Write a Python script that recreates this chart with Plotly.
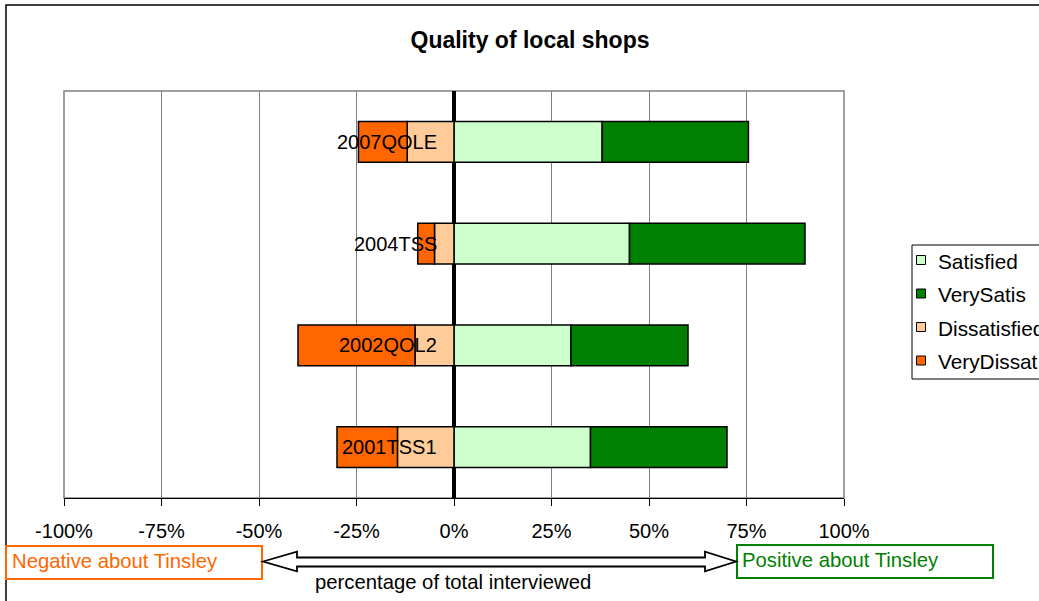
import plotly.graph_objects as go

# Survey results (percent of total interviewed)
categories = ["2007QOLE", "2004TSS", "2002QOL2", "2001TSS1"]
satisfied = [38, 45, 30, 35]
very_satis = [37.5, 45, 30, 35]
dissatisfied = [12, 5, 10, 14.5]
very_dissat = [12.5, 4.3, 30, 15.5]

series_names = ["Satisfied", "VerySatis", "Dissatisfied", "VeryDissat"]
series_colors = ["#CCFFCC", "#008000", "#FFCC99", "#FF6600"]

tick_values = [-100, -75, -50, -25, 0, 25, 50, 75, 100]
tick_labels = ["-100%", "-75%", "-50%", "-25%", "0%", "25%", "50%", "75%", "100%"]

FONT = "Liberation Sans, Arial, sans-serif"
W, H = 1039, 601
ML, MR, MT, MB = 64, 195, 91, 103
PW, PH = W - ML - MR, H - MT - MB


def px(xp):
    return (xp - ML) / PW


def py(yp):
    return (H - MB - yp) / PH


fig = go.Figure()

# positives stack to the right, negatives (drawn as negative values) to the left
series_values = [
    satisfied,
    very_satis,
    [-v for v in dissatisfied],
    [-v for v in very_dissat],
]
for name, color, vals in zip(series_names, series_colors, series_values):
    fig.add_trace(go.Bar(
        y=categories, x=vals, name=name, orientation="h", width=0.4,
        marker=dict(color=color, line=dict(color="#000000", width=1.5)),
        showlegend=False,
    ))

shapes = []
annotations = []

# outer chart border
shapes.append(dict(type="rect", xref="paper", yref="paper",
                   x0=px(6), x1=px(1060), y0=py(5), y1=py(620),
                   line=dict(color="#000000", width=1.5), layer="below"))
# plot area frame
shapes.append(dict(type="rect", xref="paper", yref="paper",
                   x0=0, x1=1, y0=0, y1=1,
                   line=dict(color="#808080", width=1.5), layer="below"))

# category labels sitting next to the zero line
for cat in categories:
    annotations.append(dict(x=0, y=cat, xref="x", yref="y", text=cat,
                            showarrow=False, xanchor="right", yanchor="middle",
                            xshift=-15, font=dict(family=FONT, size=20, color="#000000")))

# legend box drawn by hand
leg_rows = [260, 293.5, 327, 360.5]
shapes.append(dict(type="rect", xref="paper", yref="paper",
                   x0=px(912), x1=px(1070), y0=py(245), y1=py(379),
                   line=dict(color="#000000", width=1), fillcolor="#FFFFFF"))
for name, color, row in zip(series_names, series_colors, leg_rows):
    shapes.append(dict(type="rect", xref="paper", yref="paper",
                       x0=px(916.5), x1=px(925.5), y0=py(row - 4.5), y1=py(row + 4.5),
                       line=dict(color="#000000", width=1), fillcolor=color))
    annotations.append(dict(x=px(936), y=py(row + 1), xref="paper", yref="paper",
                            text=name, showarrow=False, xanchor="left", yanchor="middle",
                            font=dict(family=FONT, size=20.8, color="#000000")))

# negative / positive boxes
shapes.append(dict(type="rect", xref="paper", yref="paper",
                   x0=px(6), x1=px(262), y0=py(546), y1=py(579),
                   line=dict(color="#FF6600", width=2), fillcolor="#FFFFFF"))
annotations.append(dict(x=px(10), y=py(561), xref="paper", yref="paper",
                        text="Negative about Tinsley", showarrow=False,
                        xanchor="left", yanchor="middle",
                        font=dict(family=FONT, size=20.3, color="#FF6600")))
shapes.append(dict(type="rect", xref="paper", yref="paper",
                   x0=px(737), x1=px(993), y0=py(545), y1=py(578),
                   line=dict(color="#008000", width=2), fillcolor="#FFFFFF"))
annotations.append(dict(x=px(740), y=py(560), xref="paper", yref="paper",
                        text="Positive about Tinsley", showarrow=False,
                        xanchor="left", yanchor="middle",
                        font=dict(family=FONT, size=20.3, color="#008000")))

# double-headed block arrow between the two boxes
pts = [(263, 561.5), (297, 551.7), (297, 557.5), (705, 557.5), (705, 551.7),
       (736, 561.5), (705, 571.3), (705, 566.5), (297, 566.5), (297, 571.3)]
path = "M " + " L ".join(f"{px(a):.5f},{py(b):.5f}" for a, b in pts) + " Z"
shapes.append(dict(type="path", xref="paper", yref="paper", path=path,
                   line=dict(color="#000000", width=1.8), fillcolor="#FFFFFF"))

annotations.append(dict(x=px(453), y=py(582), xref="paper", yref="paper",
                        text="percentage of total interviewed", showarrow=False,
                        xanchor="center", yanchor="middle",
                        font=dict(family=FONT, size=20.3, color="#000000")))

fig.update_layout(
    width=W, height=H,
    margin=dict(l=ML, r=MR, t=MT, b=MB, autoexpand=False),
    paper_bgcolor="#FFFFFF", plot_bgcolor="#FFFFFF",
    barmode="relative",
    title=dict(text="<b>Quality of local shops</b>", x=530 / W, xanchor="center",
               xref="container", y=1 - 40 / H, yanchor="middle", yref="container",
               font=dict(family=FONT, size=23, color="#000000")),
    xaxis=dict(range=[-100, 100], tickvals=tick_values, ticktext=tick_labels,
               showgrid=True, gridcolor="#808080", gridwidth=1,
               zeroline=True, zerolinecolor="#000000", zerolinewidth=4,
               showline=True, linecolor="#000000", linewidth=1,
               ticks="outside", ticklen=7, tickcolor="#000000", tickwidth=1,
               ticklabelstandoff=8,
               tickfont=dict(family=FONT, size=20, color="#000000")),
    yaxis=dict(range=[3.5, -0.5], showticklabels=False, showgrid=False,
               zeroline=False, showline=False, ticks=""),
    shapes=shapes, annotations=annotations,
)

fig.write_html("out.html")
